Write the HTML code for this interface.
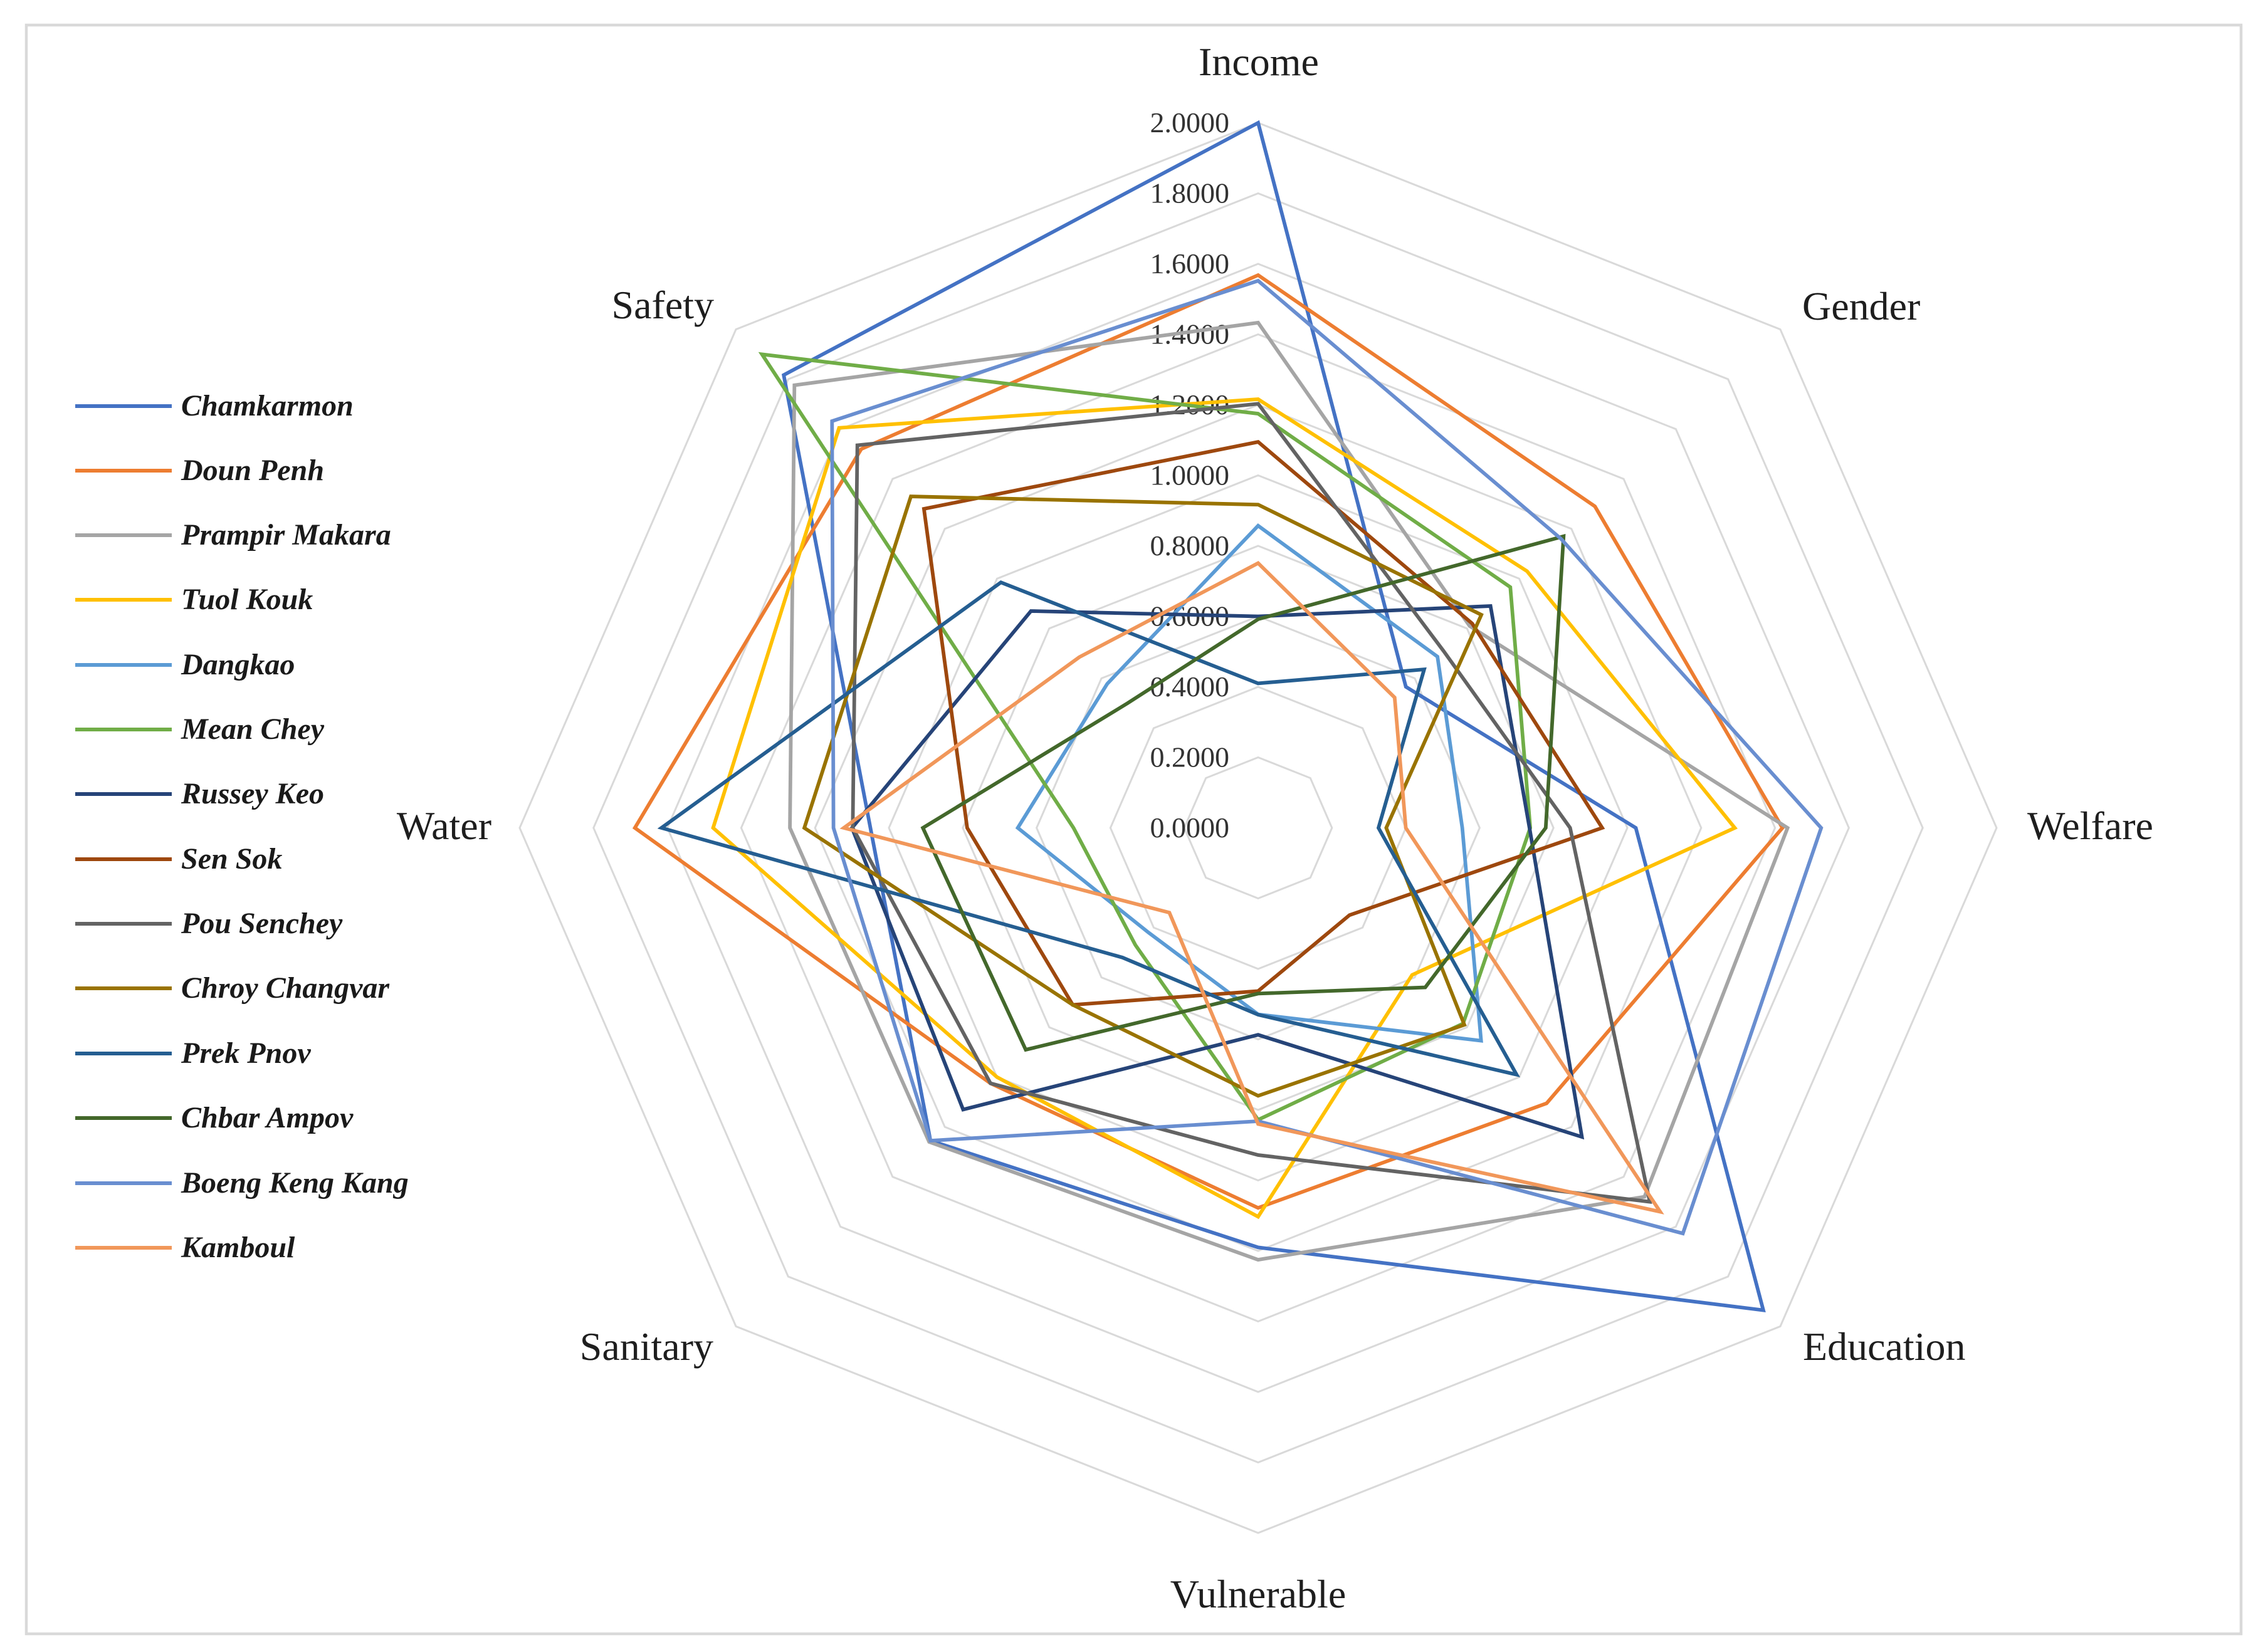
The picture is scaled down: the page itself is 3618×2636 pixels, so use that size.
<!DOCTYPE html>
<html>
<head>
<meta charset="utf-8">
<style>
  html, body { margin: 0; padding: 0; background: #ffffff; }
  body { width: 3618px; height: 2636px; overflow: hidden; }
  svg { display: block; }
  .ring { fill: none; stroke: #d9d9d9; stroke-width: 3; }
  .tick { font-family: "Liberation Serif", serif; font-size: 46px; fill: #333333; text-anchor: end; }
  .cat { font-family: "Liberation Serif", serif; font-size: 64px; fill: #1e1e1e; }
  .leg { font-family: "Liberation Serif", serif; font-size: 48px; font-weight: bold; font-style: italic; fill: #1a1a1a; }
  .s { fill: none; stroke-width: 5.8; stroke-linejoin: miter; stroke-miterlimit: 10; }
</style>
</head>
<body>
<svg width="3618" height="2636" viewBox="0 0 3618 2636" xmlns="http://www.w3.org/2000/svg">
  <rect x="0" y="0" width="3618" height="2636" fill="#ffffff"/>
  <rect x="42" y="40" width="3533" height="2567" fill="none" stroke="#d9d9d9" stroke-width="4.5"/>

  <!-- grid rings -->
  <polygon class="ring" points="2007,1208.5 2090.3,1241.5 2124.8,1321 2090.3,1400.5 2007,1433.5 1923.7,1400.5 1889.2,1321 1923.7,1241.5"/>
  <polygon class="ring" points="2007,1096 2173.6,1161.9 2242.6,1321 2173.6,1480.1 2007,1546 1840.4,1480.1 1771.4,1321 1840.4,1161.9"/>
  <polygon class="ring" points="2007,983.5 2256.9,1082.4 2360.4,1321 2256.9,1559.6 2007,1658.5 1757.1,1559.6 1653.6,1321 1757.1,1082.4"/>
  <polygon class="ring" points="2007,871 2340.2,1002.8 2478.2,1321 2340.2,1639.2 2007,1771 1673.8,1639.2 1535.8,1321 1673.8,1002.8"/>
  <polygon class="ring" points="2007,758.5 2423.5,923.3 2596,1321 2423.5,1718.7 2007,1883.5 1590.5,1718.7 1418,1321 1590.5,923.3"/>
  <polygon class="ring" points="2007,646 2506.8,843.8 2713.8,1321 2506.8,1798.2 2007,1996 1507.2,1798.2 1300.2,1321 1507.2,843.8"/>
  <polygon class="ring" points="2007,533.5 2590.1,764.2 2831.6,1321 2590.1,1877.8 2007,2108.5 1423.9,1877.8 1182.4,1321 1423.9,764.2"/>
  <polygon class="ring" points="2007,421 2673.4,684.7 2949.4,1321 2673.4,1957.3 2007,2221 1340.6,1957.3 1064.6,1321 1340.6,684.7"/>
  <polygon class="ring" points="2007,308.5 2756.7,605.1 3067.2,1321 2756.7,2036.9 2007,2333.5 1257.3,2036.9 946.8,1321 1257.3,605.1"/>
  <polygon class="ring" points="2007,196 2840,525.6 3185,1321 2840,2116.4 2007,2446 1174,2116.4 829,1321 1174,525.6"/>

  <!-- tick labels -->
  <text class="tick" x="1961" y="1336">0.0000</text>
  <text class="tick" x="1961" y="1223.5">0.2000</text>
  <text class="tick" x="1961" y="1111">0.4000</text>
  <text class="tick" x="1961" y="998.5">0.6000</text>
  <text class="tick" x="1961" y="886">0.8000</text>
  <text class="tick" x="1961" y="773.5">1.0000</text>
  <text class="tick" x="1961" y="661">1.2000</text>
  <text class="tick" x="1961" y="548.5">1.4000</text>
  <text class="tick" x="1961" y="436">1.6000</text>
  <text class="tick" x="1961" y="323.5">1.8000</text>
  <text class="tick" x="1961" y="211">2.0000</text>

  <!-- category labels -->
  <text class="cat" x="2008" y="120" text-anchor="middle">Income</text>
  <text class="cat" x="2875" y="510">Gender</text>
  <text class="cat" x="3234" y="1339">Welfare</text>
  <text class="cat" x="2876" y="2170">Education</text>
  <text class="cat" x="2007" y="2565" text-anchor="middle">Vulnerable</text>
  <text class="cat" x="1138" y="2170" text-anchor="end">Sanitary</text>
  <text class="cat" x="784" y="1339" text-anchor="end">Water</text>
  <text class="cat" x="1139" y="508" text-anchor="end">Safety</text>

  <!-- series -->
  <polygon class="s" stroke="#4472C4" points="2007,196 2242.7,1095.9 2609.5,1321 2812.9,2090.6 2007,1990.4 1484.3,1820.1 1388.5,1321 1250.2,598.4"/>
  <polygon class="s" stroke="#ED7D31" points="2007,439 2544.3,808 2843.4,1321 2467.2,1760.5 2007,1927.4 1580.1,1728.6 1012.8,1321 1373.9,716.5"/>
  <polygon class="s" stroke="#A5A5A5" points="2007,514.9 2344.4,998.9 2851.6,1321 2623.4,1909.6 2007,2010.1 1482.2,1822.1 1260.1,1321 1267.3,614.7"/>
  <polygon class="s" stroke="#FFC000" points="2007,637 2436,911.4 2767.4,1321 2252.7,1555.6 2007,1941.4 1590.5,1718.7 1137.6,1321 1338.5,682.7"/>
  <polygon class="s" stroke="#5B9BD5" points="2007,838.9 2293.1,1047.8 2332.7,1321 2362.7,1660.6 2007,1618.6 1832.1,1488 1623.6,1321 1766.3,1091.1"/>
  <polygon class="s" stroke="#70AD47" points="2007,660.1 2409.3,936.8 2441.1,1321 2334,1633.2 2007,1786.8 1811.2,1507.9 1712.5,1321 1215.6,565.4"/>
  <polygon class="s" stroke="#264478" points="2007,983.5 2377.7,967 2439.9,1321 2523.5,1814.1 2007,1651.2 1536.4,1770.4 1359.1,1321 1644.6,975"/>
  <polygon class="s" stroke="#9E480E" points="2007,705.1 2348.5,994.9 2555.9,1321 2152.8,1460.2 2007,1581.4 1711.3,1603.4 1542.9,1321 1473.9,811.9"/>
  <polygon class="s" stroke="#636363" points="2007,644.3 2302.7,1038.6 2504.7,1321 2631.8,1917.6 2007,1843 1580.1,1728.6 1360.3,1321 1367.7,710.5"/>
  <polygon class="s" stroke="#997300" points="2007,805.2 2363.1,981 2211.4,1321 2336,1635.2 2007,1748.5 1711.3,1603.4 1283.1,1321 1453.1,792.1"/>
  <polygon class="s" stroke="#255E91" points="2007,1090.4 2271.9,1068.1 2199,1321 2419.3,1714.7 2007,1619.1 1790.4,1527.8 1055.2,1321 1596.7,929.3"/>
  <polygon class="s" stroke="#43682B" points="2007,988 2494.3,855.7 2465.8,1321 2273.6,1575.5 2007,1585.4 1636.3,1675 1472.2,1321 1798.7,1122.1"/>
  <polygon class="s" stroke="#698ED0" points="2007,448 2490.1,859.7 2905.2,1321 2684.6,1968.1 2007,1789 1484.3,1820.1 1329.6,1321 1327.3,672"/>
  <polygon class="s" stroke="#F1975A" points="2007,898.6 2224.8,1113 2242.6,1321 2648.4,1933.5 2007,1793.5 1865.4,1456.2 1346.1,1321 1721.7,1048.6"/>

  <!-- legend -->
  <g stroke-width="6">
    <line x1="120" y1="648" x2="274" y2="648" stroke="#4472C4"/>
    <line x1="120" y1="751" x2="274" y2="751" stroke="#ED7D31"/>
    <line x1="120" y1="854" x2="274" y2="854" stroke="#A5A5A5"/>
    <line x1="120" y1="957" x2="274" y2="957" stroke="#FFC000"/>
    <line x1="120" y1="1061" x2="274" y2="1061" stroke="#5B9BD5"/>
    <line x1="120" y1="1164" x2="274" y2="1164" stroke="#70AD47"/>
    <line x1="120" y1="1267" x2="274" y2="1267" stroke="#264478"/>
    <line x1="120" y1="1371" x2="274" y2="1371" stroke="#9E480E"/>
    <line x1="120" y1="1474" x2="274" y2="1474" stroke="#636363"/>
    <line x1="120" y1="1577" x2="274" y2="1577" stroke="#997300"/>
    <line x1="120" y1="1681" x2="274" y2="1681" stroke="#255E91"/>
    <line x1="120" y1="1784" x2="274" y2="1784" stroke="#43682B"/>
    <line x1="120" y1="1888" x2="274" y2="1888" stroke="#698ED0"/>
    <line x1="120" y1="1991" x2="274" y2="1991" stroke="#F1975A"/>
  </g>
  <text class="leg" x="289" y="663">Chamkarmon</text>
  <text class="leg" x="289" y="766">Doun Penh</text>
  <text class="leg" x="289" y="869">Prampir Makara</text>
  <text class="leg" x="289" y="972">Tuol Kouk</text>
  <text class="leg" x="289" y="1076">Dangkao</text>
  <text class="leg" x="289" y="1179">Mean Chey</text>
  <text class="leg" x="289" y="1282">Russey Keo</text>
  <text class="leg" x="289" y="1386">Sen Sok</text>
  <text class="leg" x="289" y="1489">Pou Senchey</text>
  <text class="leg" x="289" y="1592">Chroy Changvar</text>
  <text class="leg" x="289" y="1696">Prek Pnov</text>
  <text class="leg" x="289" y="1799">Chbar Ampov</text>
  <text class="leg" x="289" y="1903">Boeng Keng Kang</text>
  <text class="leg" x="289" y="2006">Kamboul</text>
</svg>
</body>
</html>
